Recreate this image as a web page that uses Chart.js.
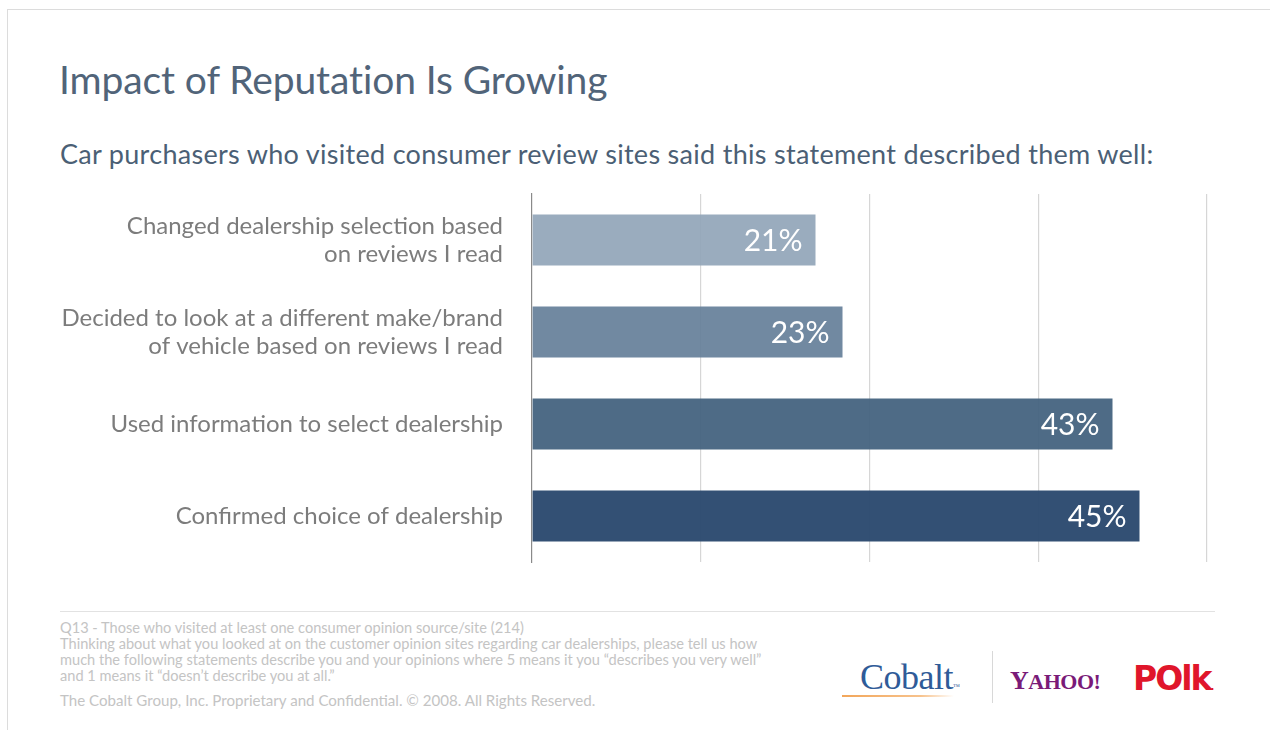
<!DOCTYPE html>
<html>
<head>
<meta charset="utf-8">
<script src="https://cdn.jsdelivr.net/npm/chart.js@4/dist/chart.umd.min.js"></script>
<style>
  html, body { margin: 0; padding: 0; background: #fff; }
  body { width: 1270px; height: 730px; position: relative; overflow: hidden; font-family: "Lato", "Open Sans", sans-serif; }
  .frame { position: absolute; left: 7px; top: 9px; right: -2px; bottom: -2px; border-top: 1px solid #dcdcdc; border-left: 1px solid #dcdcdc; }
  h1 { position: absolute; left: 59px; top: 56px; margin: 0; font-weight: 400; font-size: 39px; color: #516479; letter-spacing: -0.1px; }
  h2 { position: absolute; left: 60px; top: 137px; margin: 0; font-weight: 400; font-size: 27px; color: #4b5f75; letter-spacing: 0.3px; }
  #wrap { position: absolute; left: 0; top: 180px; width: 1270px; height: 400px; }
  .rule { position: absolute; left: 60px; top: 611px; width: 1155px; height: 0; border-top: 1px solid #e2e2e2; }
  .note { position: absolute; left: 60px; top: 620px; font-size: 14.6px; line-height: 16px; color: #c4c4c4; white-space: nowrap; }
  .copy { position: absolute; left: 60px; top: 691px; font-size: 15.1px; color: #c4c4c4; white-space: nowrap; }
  .cobalt { position: absolute; left: 860px; top: 656px; font-family: "Liberation Serif", "DejaVu Serif", serif; font-size: 36px; color: #2f5b98; letter-spacing: -0.5px; }
  .cobalt-line { position: absolute; left: 842px; top: 695px; width: 112px; height: 2px; background: linear-gradient(to right, #f2a65a, #f7c28c 70%, rgba(255,255,255,0)); }
  .sep { position: absolute; left: 992px; top: 651px; width: 1px; height: 52px; background: #d8d8d8; }
  .yahoo { position: absolute; left: 1010px; top: 666px; font-family: "Liberation Serif", "DejaVu Serif", serif; font-weight: 700; font-size: 22px; color: #7a1b78; letter-spacing: -0.5px; }
  .yahoo span { font-size: 26px; }
  .polk { position: absolute; left: 1133px; top: 659px; font-family: "DejaVu Sans", sans-serif; font-weight: 700; font-size: 33px; color: #e0162b; letter-spacing: -2px; }
  .polk small { font-size: 10px; letter-spacing: 0; }
</style>
</head>
<body>
<div class="frame"></div>
<h1>Impact of Reputation Is Growing</h1>
<h2>Car purchasers who visited consumer review sites said this statement described them well:</h2>
<div id="wrap"><canvas id="chart" width="1270" height="400"></canvas></div>
<div class="rule"></div>
<div class="note">Q13 - Those who visited at least one consumer opinion source/site (214)<br>Thinking about what you looked at on the customer opinion sites regarding car dealerships, please tell us how<br>much the following statements describe you and your opinions where 5 means it you “describes you very well”<br>and 1 means it “doesn’t describe you at all.”</div>
<div class="copy">The Cobalt Group, Inc. Proprietary and Confidential. © 2008. All Rights Reserved.</div>
<div class="cobalt">Cobalt<span style="font-size:7px">™</span></div>
<div class="cobalt-line"></div>
<div class="sep"></div>
<div class="yahoo"><span>Y</span>AHOO!</div>
<div class="polk">POlk<small>.</small></div>
<script>
// Statements, each split into the lines shown beside its bar
const statements = [
  ["Changed dealership selection based", "on reviews I read"],
  ["Decided to look at a different make/brand", "of vehicle based on reviews I read"],
  ["Used information to select dealership"],
  ["Confirmed choice of dealership"]
];
// Share of respondents (%)
const shares = [21, 23, 43, 45];
const barColors = ["rgba(146,166,185,0.93)", "rgba(102,128,154,0.93)", "rgba(69,99,128,0.95)", "rgba(44,74,111,0.97)"];
const axisMax = 50;
const gridStep = 12.5;

// Writes each bar's value inside its end
const valueLabels = {
  id: "valueLabels",
  afterDatasetsDraw(chart) {
    const ctx = chart.ctx;
    const meta = chart.getDatasetMeta(0);
    ctx.save();
    ctx.font = "400 30px Lato, 'Open Sans', sans-serif";
    ctx.fillStyle = "#ffffff";
    ctx.textAlign = "right";
    ctx.textBaseline = "middle";
    meta.data.forEach((bar, i) => {
      ctx.fillText(shares[i] + "%", bar.x - 13, bar.y + 1);
    });
    ctx.restore();
  }
};

new Chart(document.getElementById("chart"), {
  type: "bar",
  data: {
    labels: statements,
    datasets: [{
      data: shares,
      backgroundColor: barColors,
      borderWidth: 0,
      categoryPercentage: 1,
      barPercentage: 0.555
    }]
  },
  options: {
    indexAxis: "y",
    responsive: false,
    animation: false,
    events: [],
    layout: { padding: { left: 0, right: 63, top: 14, bottom: 18 } },
    plugins: { legend: { display: false }, tooltip: { enabled: false } },
    scales: {
      x: {
        min: 0,
        max: axisMax,
        ticks: { display: false, stepSize: gridStep },
        border: { display: false },
        grid: {
          drawTicks: false,
          lineWidth: 1.2,
          color: (c) => (c.tick && c.tick.value === 0) ? "rgba(0,0,0,0)" : "#d6d6d6"
        }
      },
      y: {
        afterFit(scale) {
          scale.width = 532;
          scale.paddingTop = 0;
          scale.paddingBottom = 0;
        },
        ticks: {
          color: "#7c7c7c",
          font: { family: "Lato, 'Open Sans', sans-serif", size: 24, lineHeight: 1.17 },
          padding: 29
        },
        grid: { display: false, drawTicks: false },
        border: { display: true, color: "#8a8a8a", width: 1.2 }
      }
    }
  },
  plugins: [valueLabels]
});
</script>
</body>
</html>
